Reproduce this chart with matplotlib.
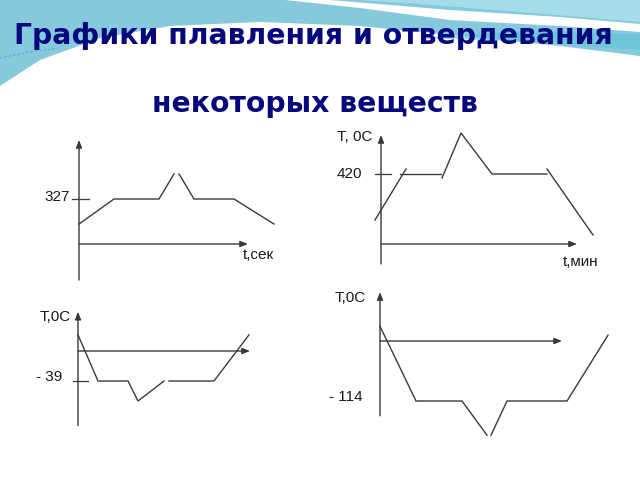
import matplotlib
matplotlib.use("Agg")
import matplotlib.pyplot as plt
from matplotlib.patches import Polygon

W, H = 640, 480
LINE = "#3a3a3a"
NAVY = "#08087e"

title1 = "Графики плавления и отвердевания"
title2 = "некоторых веществ"

# panel 1 - lead (t, sec)
lead_a_t = [0, 7, 16, 19]
lead_a_T = [145, 327, 327, 509]
lead_b_t = [20, 23, 31, 39]
lead_b_T = [509, 327, 327, 145]

# panel 2 - zinc (t, min)
zinc_a_t = [-1.2, 5]
zinc_a_T = [144, 450]
zinc_b_t = [3.8, 12]
zinc_b_T = [420, 420]
zinc_c_t = [12.2, 16, 22.2, 33.2]
zinc_c_T = [396, 666, 420, 420]
zinc_d_t = [33.2, 42.4]
zinc_d_T = [450, 54]

# panel 3 - mercury
hg_a_t = [0, 4, 10, 12, 17.2]
hg_a_T = [21, -39, -39, -65, -39]
hg_b_t = [18.2, 27.2, 34.2]
hg_b_T = [-39, -39, 21]

# panel 4 - alcohol
alc_a_t = [0, 7.2, 16.4, 21.4]
alc_a_T = [28, -114, -114, -179]
alc_b_t = [22.2, 25.4, 37.4, 45.6]
alc_b_T = [-179, -114, -114, 11]

fig = plt.figure(figsize=(6.4, 4.8), dpi=100)
fig.patch.set_facecolor("white")

# background decoration in pixel coords
bg = fig.add_axes([0, 0, 1, 1])
bg.set_xlim(0, W)
bg.set_ylim(H, 0)
bg.axis("off")
bg.add_patch(Polygon([(0, 0), (640, 0), (640, 56), (560, 46), (460, 36), (360, 26),
                      (260, 22), (170, 26), (100, 38), (40, 60), (0, 86)],
                     closed=True, fc="#86c9dd", ec="none"))
bg.add_patch(Polygon([(360, 0), (640, 0), (640, 22), (520, 12), (420, 4)],
                     closed=True, fc="#a4dde9", ec="none"))
bg.add_patch(Polygon([(285, 0), (330, 0), (450, 10), (560, 17), (640, 24),
                      (640, 32), (560, 26), (450, 20), (360, 8)],
                     closed=True, fc="white", ec="none"))
bg.add_patch(Polygon([(420, 38), (520, 31), (640, 34), (640, 50), (540, 42)],
                     closed=True, fc="#5fc3d8", ec="none", alpha=0.6))
bg.plot([0, 30, 60], [58, 52, 48], ls=(0, (2, 2)), color="#5aa9c4", lw=0.8)

bg.text(313, 36, title1, ha="center", va="center", fontsize=20.3,
        fontweight="bold", color=NAVY, family="DejaVu Sans")
bg.text(315, 104, title2, ha="center", va="center", fontsize=20.3,
        fontweight="bold", color=NAVY, family="DejaVu Sans")


def panel(ox, oy, sy, sx=5.0):
    # full-figure axes whose data origin sits on the drawn axes cross
    ax = fig.add_axes([0, 0, 1, 1])
    ax.set_xlim((0 - ox) / sx, (W - ox) / sx)
    ax.set_ylim((oy - H) / sy, oy / sy)
    ax.patch.set_alpha(0)
    ax.axis("off")
    return ax


def axes_cross(ax, t_end, T_bot, T_top):
    kw = dict(arrowstyle="-|>,head_length=0.45,head_width=0.18", color=LINE, lw=1.0,
              shrinkA=0, shrinkB=0)
    ax.annotate("", xy=(t_end, 0), xytext=(0, 0), arrowprops=kw)
    ax.annotate("", xy=(0, T_top), xytext=(0, T_bot), arrowprops=kw)


def curve(ax, t, T):
    ax.plot(t, T, color=LINE, lw=1.0, solid_joinstyle="miter")


lab = dict(family="Liberation Sans", fontsize=11, color="#1a1a1a", va="center")

# panel 1
ax1 = panel(79, 244, 45 / 327)
axes_cross(ax1, 33.8, -262, 756)
ax1.plot([-1.4, 2], [327, 327], color=LINE, lw=0.9)
curve(ax1, lead_a_t, lead_a_T)
curve(ax1, lead_b_t, lead_b_T)
ax1.text(-1.8, 342, "327", ha="right", **lab)
ax1.text(32.8, -80, "t,сек", ha="left", **lab)

# panel 2
ax2 = panel(381, 244, 70 / 420)
axes_cross(ax2, 39.2, -120, 654)
ax2.plot([-1.2, 2], [420, 420], color=LINE, lw=0.9)
curve(ax2, zinc_a_t, zinc_a_T)
curve(ax2, zinc_b_t, zinc_b_T)
curve(ax2, zinc_c_t, zinc_c_T)
curve(ax2, zinc_d_t, zinc_d_T)
ax2.text(-3.8, 420, "420", ha="right", **lab)
ax2.text(-8.8, 642, "T, 0C", ha="left", **lab)
ax2.text(36.4, -108, "t,мин", ha="left", **lab)

# panel 3
ax3 = panel(78, 351, 30 / 39)
axes_cross(ax3, 34.4, -97, 51)
ax3.plot([-1, 2], [-39, -39], color=LINE, lw=0.9)
curve(ax3, hg_a_t, hg_a_T)
curve(ax3, hg_b_t, hg_b_T)
ax3.text(-3.2, -34, "- 39", ha="right", **lab)
ax3.text(-7.6, 44, "T,0C", ha="left", **lab)

# panel 4
ax4 = panel(380, 341, 60 / 114)
axes_cross(ax4, 36.4, -142, 93)
curve(ax4, alc_a_t, alc_a_T)
curve(ax4, alc_b_t, alc_b_T)
ax4.text(-3.4, -106, "- 114", ha="right", **lab)
ax4.text(-9, 82, "T,0C", ha="left", **lab)

fig.savefig("out.png", dpi=100)
